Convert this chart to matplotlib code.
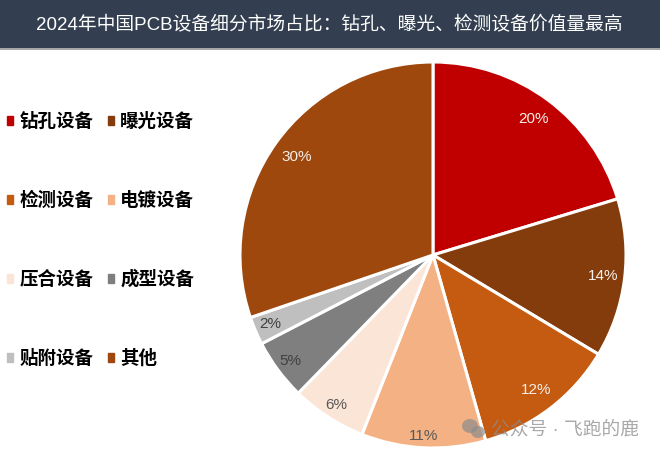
import numpy as np
import matplotlib
matplotlib.use("Agg")
import matplotlib.pyplot as plt
from matplotlib.patches import Ellipse, Rectangle

plt.rcParams['font.family'] = ['Liberation Sans', 'Noto Sans CJK SC', 'DejaVu Sans']

# --- data ---
title = "2024年中国PCB设备细分市场占比\uff1a钻孔、曝光、检测设备价值量最高"
categories = ["钻孔设备", "曝光设备", "检测设备", "电镀设备", "压合设备", "成型设备", "贴附设备", "其他"]
# slice sizes, printed labels are the rounded ones
shares = [20.3, 13.3, 12.0, 10.4, 6.3, 5.1, 2.35, 30.25]
share_labels = ["20%", "14%", "12%", "11%", "6%", "5%", "2%", "30%"]
pie_colors = ["#C00000", "#843C0C", "#C55A11", "#F4B183", "#FBE5D6", "#7F7F7F", "#BFBFBF", "#9E480E"]
label_colors = ["#F5F0EA", "#F5F0EA", "#F5F0EA", "#595959", "#595959", "#404040", "#404040", "#F5F0EA"]
watermark = "公众号 · 飞跑的鹿"

# how far out each label sits, as fraction of radius
label_dist = [0.875, 0.89, 0.88, 0.94, 0.925, 0.92, 0.915, 0.87]

W, H = 660, 454
fig = plt.figure(figsize=(W / 100, H / 100), dpi=100)

# background layer in pixel coords
bg = fig.add_axes([0, 0, 1, 1])
bg.set_xlim(0, W)
bg.set_ylim(H, 0)
bg.axis("off")
bg.add_patch(Rectangle((0, 0), W, 48, color="#333F50", lw=0))
bg.add_patch(Rectangle((0, 48), W, 1.5, color="#A6A6A6", lw=0))
bg.text(329, 25, title, color="white", fontsize=13.5, ha="center", va="center")

# pie: centre (433, 255), radius 193 px
cx, cy, r = 433, 255, 193
ax = fig.add_axes([(cx - r) / W, 1 - (cy + r) / H, 2 * r / W, 2 * r / H])
wedges, texts = ax.pie(
    shares, colors=pie_colors, startangle=90, counterclock=False, radius=1,
    wedgeprops=dict(edgecolor="white", linewidth=2.2),
)
ax.set_xlim(-1, 1)
ax.set_ylim(-1, 1)
for w, s, c, d in zip(wedges, share_labels, label_colors, label_dist):
    a = np.deg2rad((w.theta1 + w.theta2) / 2)
    ax.text(d * np.cos(a), d * np.sin(a), s, color=c, fontsize=11, ha="center", va="center")

# legend, two columns, four rows
order = [0, 2, 4, 6, 1, 3, 5, 7]
leg = bg.legend(
    [Rectangle((0, 0), 1, 1, color=pie_colors[i]) for i in order],
    [categories[i] for i in order],
    ncol=2, loc="upper left", bbox_to_anchor=(0, 1 - 105 / H), frameon=False,
    handlelength=0.33, handleheight=0.33, handletextpad=0.33,
    labelspacing=3.25, columnspacing=0.8, borderpad=0, borderaxespad=0.38,
    prop=dict(family=['Noto Sans CJK SC'], size=13.3, weight="bold"),
)

# watermark
bg.add_patch(Ellipse((470, 426), 16, 14, color="#8C8C8C", alpha=0.7, lw=0, zorder=5))
bg.add_patch(Ellipse((478, 432), 14, 12, color="#8C8C8C", alpha=0.7, lw=0, zorder=5))
bg.set_zorder(3)
bg.patch.set_alpha(0)
bg.text(491, 430, watermark, color="#8C8C8C", alpha=0.75, fontsize=13.5, va="center", zorder=5)

fig.savefig("out.png", dpi=100)
